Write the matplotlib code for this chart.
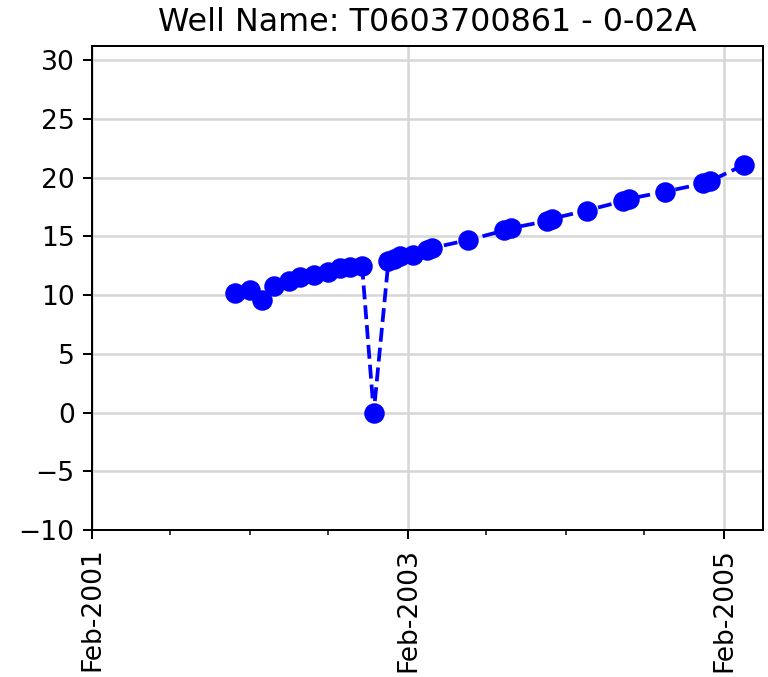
import numpy as np
import pandas as pd
import matplotlib
matplotlib.use("Agg")
import matplotlib.pyplot as plt
import matplotlib.dates as mdates
from matplotlib.ticker import FixedLocator

# readings for the well (dates, levels off the y axis)
dates = ["2001-12-29", "2002-02-01", "2002-02-28", "2002-03-28", "2002-05-01",
         "2002-05-28", "2002-06-28", "2002-07-31", "2002-08-29", "2002-09-21",
         "2002-10-18", "2002-11-14", "2002-12-18", "2002-12-30", "2003-01-13",
         "2003-02-13", "2003-03-18", "2003-03-28", "2003-06-21", "2003-09-12",
         "2003-09-27", "2003-12-19", "2003-12-30", "2004-03-20", "2004-06-12",
         "2004-06-26", "2004-09-17", "2004-12-15", "2004-12-30", "2005-03-20"]
values = [10.2, 10.4, 9.6, 10.8, 11.2,
          11.5, 11.7, 12.0, 12.3, 12.4,
          12.5, 0.0, 12.9, 13.1, 13.3,
          13.4, 13.8, 14.0, 14.7, 15.5,
          15.7, 16.3, 16.5, 17.2, 18.0,
          18.2, 18.8, 19.5, 19.7, 21.1]
major_ticks = ["2001-02-01", "2003-02-01", "2005-02-01"]
title = "Well Name: T0603700861 - 0-02A"

x = pd.to_datetime(dates)

fig = plt.figure(figsize=(768/180, 677/180), dpi=180)
ax = fig.add_subplot(111)
fig.subplots_adjust(left=0.12, right=0.9935, bottom=0.217, top=0.932)

ax.plot(x, values, 'b--', marker='o', markersize=7.2, linewidth=1.5)

ax.set_xlim(pd.Timestamp("2001-02-01"), pd.Timestamp("2005-05-02"))
ax.set_ylim(-10, 31.2)
ax.set_yticks(np.arange(-10, 31, 5))

ax.xaxis.set_major_locator(FixedLocator(mdates.date2num(pd.to_datetime(major_ticks))))
ax.xaxis.set_minor_locator(mdates.MonthLocator(bymonth=(2, 8), bymonthday=1))
ax.xaxis.set_major_formatter(mdates.DateFormatter('%b-%Y'))
ax.tick_params(labelsize=10.6)
plt.setp(ax.get_xticklabels(), rotation=90)

ax.grid(True, color='#d6d6d6', linewidth=1.0)
ax.set_axisbelow(True)
ax.set_title(title, fontsize=12.7)

plt.savefig("out.png", dpi=180)
